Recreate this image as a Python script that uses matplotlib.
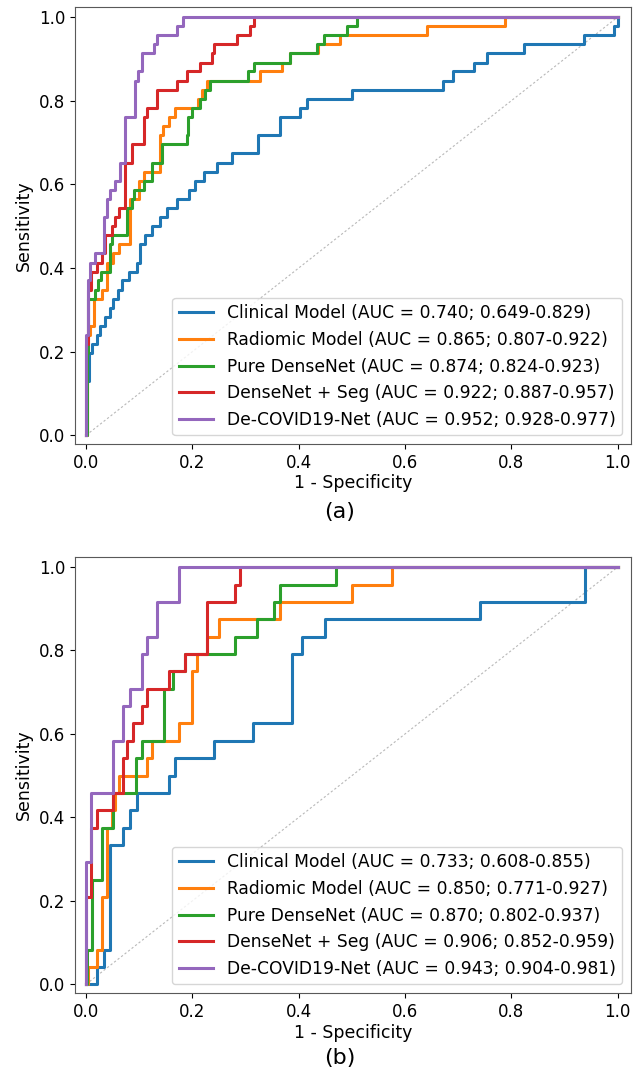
import numpy as np
import matplotlib

matplotlib.use("Agg")

import matplotlib.pyplot as plt

# model names shared by both panels
models = ["Clinical Model", "Radiomic Model", "Pure DenseNet",
          "DenseNet + Seg", "De-COVID19-Net"]
colors = ["C0", "C1", "C2", "C3", "C4"]

# panel (a): ROC corner points, at fpr[i] the curve jumps up to tpr[i]
a_auc = ["0.740; 0.649-0.829", "0.865; 0.807-0.922", "0.874; 0.824-0.923",
         "0.922; 0.887-0.957", "0.952; 0.928-0.977"]

a_clin_fpr = [0, 0.002, 0.006, 0.011, 0.020, 0.026, 0.036, 0.045, 0.051, 0.060,
              0.067, 0.080, 0.095, 0.102, 0.111, 0.124, 0.139, 0.152, 0.171,
              0.193, 0.205, 0.221, 0.246, 0.274, 0.324, 0.365, 0.403, 0.415,
              0.500, 0.671, 0.691, 0.729, 0.754, 0.823, 0.936, 0.993, 1.0]
a_clin_tpr = [0, 0.130, 0.196, 0.217, 0.239, 0.261, 0.283, 0.304, 0.326, 0.348,
              0.370, 0.391, 0.413, 0.457, 0.478, 0.500, 0.522, 0.543, 0.565,
              0.587, 0.609, 0.630, 0.652, 0.674, 0.717, 0.761, 0.783, 0.804,
              0.826, 0.848, 0.870, 0.891, 0.913, 0.935, 0.957, 0.978, 1.0]

a_rad_fpr = [0, 0.002, 0.008, 0.014, 0.029, 0.039, 0.050, 0.061, 0.082, 0.099,
             0.108, 0.139, 0.145, 0.155, 0.167, 0.210, 0.218, 0.227, 0.327,
             0.368, 0.384, 0.437, 0.478, 0.641, 0.788, 1.0]
a_rad_tpr = [0, 0.239, 0.261, 0.326, 0.348, 0.413, 0.435, 0.457, 0.565, 0.609,
             0.630, 0.717, 0.739, 0.761, 0.783, 0.804, 0.826, 0.848, 0.870,
             0.891, 0.913, 0.935, 0.957, 0.978, 1.0, 1.0]

a_pure_fpr = [0, 0.001, 0.002, 0.004, 0.017, 0.023, 0.028, 0.045, 0.048, 0.077,
              0.086, 0.090, 0.108, 0.124, 0.142, 0.189, 0.192, 0.199, 0.214,
              0.224, 0.233, 0.305, 0.315, 0.384, 0.434, 0.447, 0.490, 0.509, 1.0]
a_pure_tpr = [0, 0.130, 0.196, 0.326, 0.348, 0.370, 0.391, 0.457, 0.478, 0.543,
              0.565, 0.587, 0.609, 0.652, 0.696, 0.717, 0.761, 0.783, 0.804,
              0.826, 0.848, 0.870, 0.891, 0.913, 0.935, 0.957, 0.978, 1.0, 1.0]

a_seg_fpr = [0, 0, 0.004, 0.010, 0.020, 0.030, 0.036, 0.048, 0.055, 0.061,
             0.073, 0.086, 0.108, 0.114, 0.133, 0.171, 0.189, 0.214, 0.236,
             0.240, 0.283, 0.309, 0.315, 1.0]
a_seg_tpr = [0, 0.217, 0.348, 0.391, 0.413, 0.435, 0.478, 0.500, 0.522, 0.543,
             0.652, 0.696, 0.761, 0.783, 0.826, 0.848, 0.870, 0.891, 0.913,
             0.935, 0.957, 0.978, 1.0, 1.0]

a_deco_fpr = [0, 0, 0.004, 0.008, 0.017, 0.033, 0.039, 0.045, 0.055, 0.064,
              0.073, 0.092, 0.098, 0.105, 0.127, 0.133, 0.171, 0.183, 1.0]
a_deco_tpr = [0, 0.239, 0.370, 0.413, 0.435, 0.522, 0.565, 0.587, 0.609, 0.652,
              0.761, 0.848, 0.870, 0.913, 0.935, 0.957, 0.978, 1.0, 1.0]

# panel (b)
b_auc = ["0.733; 0.608-0.855", "0.850; 0.771-0.927", "0.870; 0.802-0.937",
         "0.906; 0.852-0.959", "0.943; 0.904-0.981"]

b_clin_fpr = [0, 0.020, 0.033, 0.045, 0.070, 0.083, 0.095, 0.155, 0.167, 0.240,
              0.313, 0.387, 0.406, 0.450, 0.741, 0.939, 1.0]
b_clin_tpr = [0, 0.042, 0.083, 0.333, 0.375, 0.417, 0.458, 0.500, 0.542, 0.583,
              0.625, 0.792, 0.833, 0.875, 0.917, 1.0, 1.0]

b_rad_fpr = [0, 0.004, 0.020, 0.029, 0.039, 0.048, 0.055, 0.061, 0.114, 0.124,
             0.174, 0.199, 0.208, 0.227, 0.249, 0.365, 0.500, 0.575, 1.0]
b_rad_tpr = [0, 0.042, 0.083, 0.208, 0.375, 0.417, 0.458, 0.500, 0.542, 0.583,
             0.625, 0.750, 0.792, 0.833, 0.875, 0.917, 0.958, 1.0, 1.0]

b_pure_fpr = [0, 0.001, 0.011, 0.029, 0.051, 0.094, 0.105, 0.146, 0.164, 0.186,
              0.280, 0.321, 0.354, 0.365, 0.470, 1.0]
b_pure_tpr = [0, 0.083, 0.250, 0.375, 0.458, 0.542, 0.583, 0.708, 0.750, 0.792,
              0.833, 0.875, 0.917, 0.958, 1.0, 1.0]

b_seg_fpr = [0, 0, 0.009, 0.020, 0.051, 0.070, 0.077, 0.089, 0.105, 0.114,
             0.155, 0.186, 0.227, 0.280, 0.290, 1.0]
b_seg_tpr = [0, 0.208, 0.375, 0.417, 0.458, 0.542, 0.583, 0.625, 0.667, 0.708,
             0.750, 0.792, 0.917, 0.958, 1.0, 1.0]

b_deco_fpr = [0, 0, 0.009, 0.051, 0.070, 0.083, 0.105, 0.114, 0.133, 0.174, 1.0]
b_deco_tpr = [0, 0.292, 0.458, 0.583, 0.667, 0.708, 0.792, 0.833, 0.917, 1.0, 1.0]

panels = [
    ("(a)", a_auc, [(a_clin_fpr, a_clin_tpr), (a_rad_fpr, a_rad_tpr),
                    (a_pure_fpr, a_pure_tpr), (a_seg_fpr, a_seg_tpr),
                    (a_deco_fpr, a_deco_tpr)]),
    ("(b)", b_auc, [(b_clin_fpr, b_clin_tpr), (b_rad_fpr, b_rad_tpr),
                    (b_pure_fpr, b_pure_tpr), (b_seg_fpr, b_seg_tpr),
                    (b_deco_fpr, b_deco_tpr)]),
]

W, H = 644, 1074
fig = plt.figure(figsize=(W / 100, H / 100), dpi=100)

# axes boxes in pixels: left, top, right, bottom
boxes = [(75, 7, 631, 444), (75, 557, 631, 993)]
panel_label_y = [512, 1058]

for (tag, aucs, curves), (l, t, r, b), ly in zip(panels, boxes, panel_label_y):
    ax = fig.add_axes([l / W, 1 - b / H, (r - l) / W, (b - t) / H])
    ax.plot([0, 1], [0, 1], linestyle=(0, (2, 2)), color="#b8b8b8", lw=0.8)
    for name, auc, col, (fpr, tpr) in zip(models, aucs, colors, curves):
        ax.plot(fpr, tpr, drawstyle="steps-post", color=col, lw=2.2,
                label=f"{name} (AUC = {auc})")
    ax.set_xlim(-0.021, 1.025)
    ax.set_ylim(-0.021, 1.024)
    ax.set_xticks(np.arange(0, 1.01, 0.2))
    ax.set_yticks(np.arange(0, 1.01, 0.2))
    ax.tick_params(labelsize=12)
    ax.set_xlabel("1 - Specificity", fontsize=12.5, labelpad=2)
    ax.set_ylabel("Sensitivity", fontsize=12.5)
    for sp in ax.spines.values():
        sp.set_color("0.35")
    ax.legend(loc="lower right", fontsize=12.3)
    fig.text(340 / W, 1 - ly / H, tag, fontsize=16, ha="center", va="center")

fig.savefig("out.png", dpi=100)
